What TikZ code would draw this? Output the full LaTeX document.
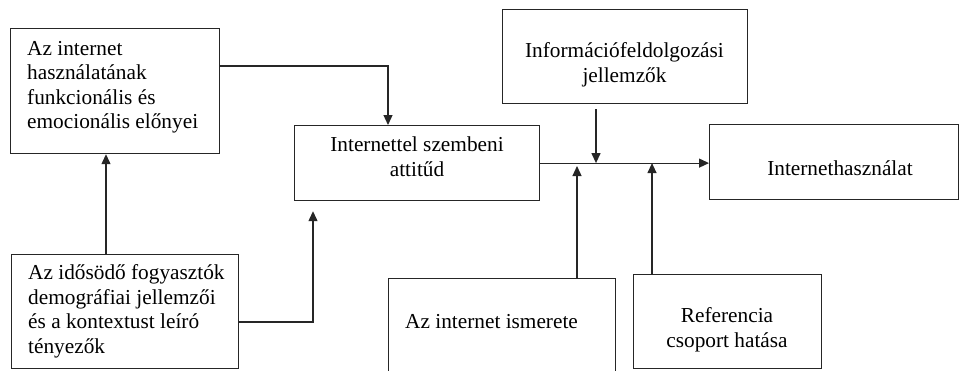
\documentclass[tikz,border=0pt]{standalone}
\usepackage{fontspec}
\setmainfont{Liberation Serif}
\usetikzlibrary{arrows.meta,calc}
\begin{document}
\begin{tikzpicture}[x=1pt,y=-1pt,
  box/.style={draw=black!85, line width=1.2pt, rectangle, inner sep=0pt, anchor=north west},
  txt/.style={inner sep=0pt, font=\fontsize{21.3}{24.5}\selectfont},
  arr/.style={draw=black!85, line width=1.2pt, -{Triangle[length=10pt,width=9pt]}}]
\clip (0,0) rectangle (960,370);
\fill[white] (0,0) rectangle (960,370);
% boxes
\node[box, minimum width=209pt, minimum height=125pt] (A) at (10,28) {};
\node[box, minimum width=245pt, minimum height=75pt] (B) at (294,125) {};
\node[box, minimum width=245pt, minimum height=94pt] (C) at (502,9) {};
\node[box, minimum width=249pt, minimum height=75pt] (D) at (709,124) {};
\node[box, minimum width=227pt, minimum height=114pt] (E) at (11,254) {};
\node[box, minimum width=227pt, minimum height=110pt] (F) at (388,278) {};
\node[box, minimum width=188pt, minimum height=94pt] (G) at (633,274) {};
% texts (base anchor = baseline of the last line)
\node[txt, anchor=base west, align=left] (At) at (27,128.5) {Az internet\\használatának\\funkcionális és\\emocionális előnyei};
\node[txt, anchor=base, align=center] (Bt) at (417,176) {Internettel szembeni\\attitűd};
\node[txt, anchor=base, align=center] (Ct) at (624.5,82) {Információfeldolgozási\\jellemzők};
\node[txt, anchor=base] (Dt) at (840,175) {Internethasználat};
\node[txt, anchor=base west, align=left] (Et) at (28,353) {Az idősödő fogyasztók\\demográfiai jellemzői\\és a kontextust leíró\\tényezők};
\node[txt, anchor=base west] (Ft) at (405,328) {Az internet ismerete};
\node[txt, anchor=base, align=center] (Gt) at (727,347) {Referencia\\csoport hatása};
% coordinates
\coordinate (aOut) at ($(A.north east)+(0,38)$);
\coordinate (bIn) at ($(B.north west)+(94,0)$);
\coordinate (eTop) at ($(E.north west)+(95,0)$);
\coordinate (aIn) at ($(A.south west)+(96,0)$);
\coordinate (eOut) at ($(E.north east)+(0,68)$);
\coordinate (bTip) at ($(B.south west)+(19,10)$);
\coordinate (cOut) at ($(C.south west)+(94,5)$);
\coordinate (fTop) at ($(F.north west)+(189,0)$);
\coordinate (fTip) at (577,166);
\coordinate (gTop) at ($(G.north west)+(19,0)$);
% connectors
\draw[arr] (aOut) -| (bIn);
\draw[arr] (eTop) -- (aIn);
\draw[arr] (eOut) -| (bTip);
\draw[arr] (cOut) -- (cOut |- B.east);
\draw[arr] (B.east) -- (B.east -| D.west);
\draw[arr] (fTop) -- (fTip);
\draw[arr] (gTop) -- (gTop |- B.east);
\end{tikzpicture}
\end{document}
